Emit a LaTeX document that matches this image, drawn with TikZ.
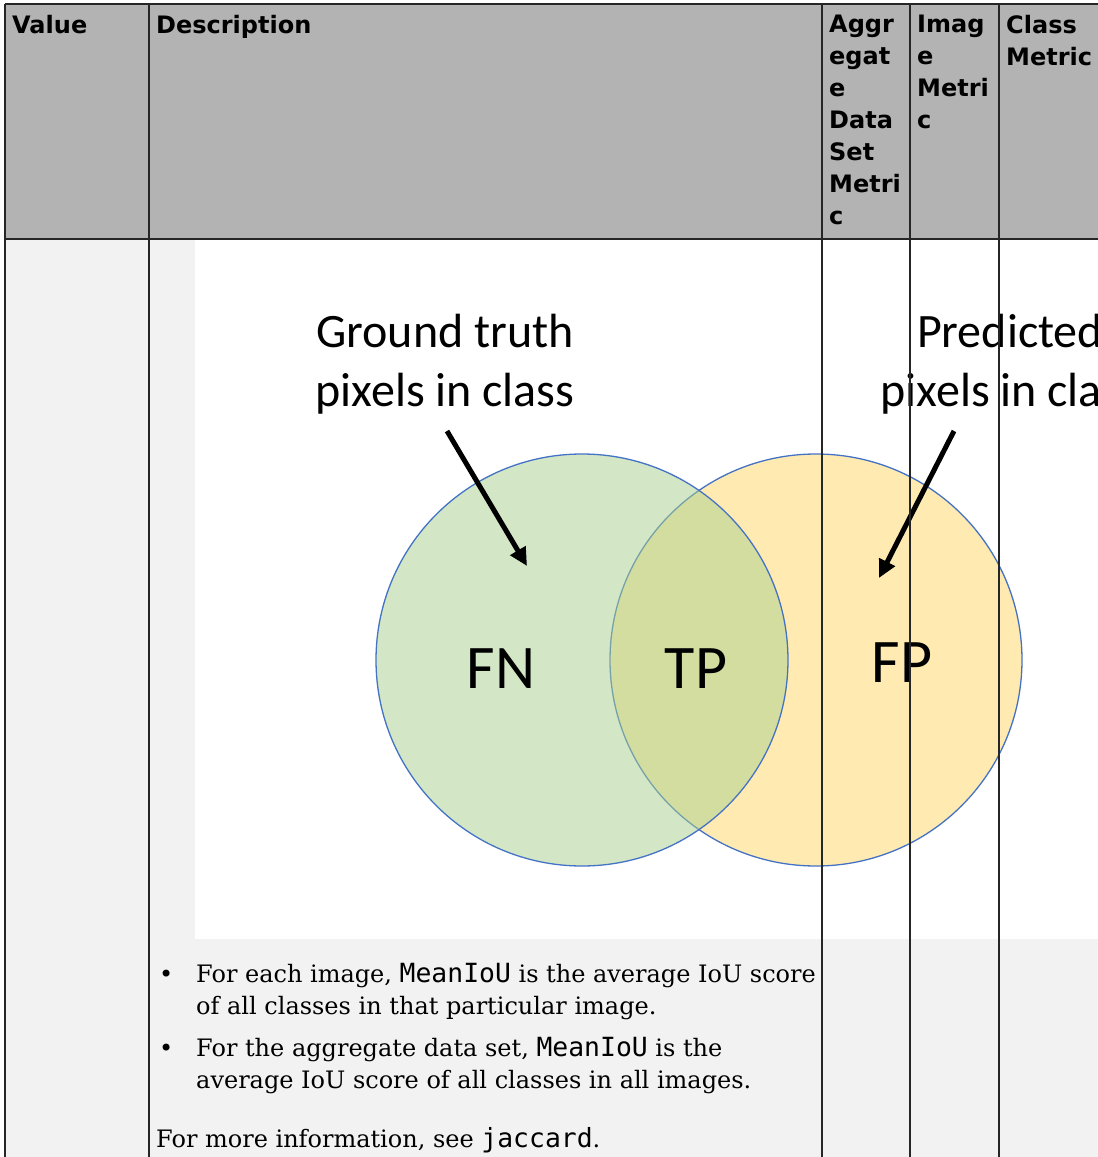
\documentclass[tikz,border=0pt]{standalone}
\usepackage{fontspec}
\setmainfont{DejaVu Serif}
\setsansfont{DejaVu Sans}
\setmonofont{DejaVu Sans Mono}[Scale=1.1]
\newfontfamily\callout{Carlito}
\usetikzlibrary{arrows.meta}
\definecolor{hdrgray}{HTML}{B3B3B3}
\definecolor{cellgray}{HTML}{F2F2F2}
\definecolor{gtgreen}{HTML}{A9D18E}
\definecolor{predyellow}{HTML}{FFD966}
\definecolor{rimblue}{HTML}{4472C4}

\begin{document}
\begin{tikzpicture}[x=1pt, y=-1pt,
  hdr/.style={anchor=north west, align=left, inner sep=0pt, font=\sffamily\bfseries\fontsize{24}{32}\selectfont},
  txtline/.style={anchor=base west, inner sep=0pt, font=\fontsize{24}{32}\selectfont},
  caption/.style={anchor=north, align=center, inner sep=0pt, font=\callout\fontsize{48}{59}\selectfont},
  region/.style={inner sep=0pt, font=\callout\fontsize{62}{62}\selectfont},
  set/.style={draw=rimblue, line width=1.3pt, fill opacity=0.5},
  rule/.style={line width=1.6pt, black!85},
  pointer/.style={line width=5pt, -{Triangle[length=18pt,width=17pt]}}
]
\useasboundingbox (0,0) rectangle (1098,1157);
\clip (0,0) rectangle (1098,1157);

% cell backgrounds
\fill[hdrgray] (5,4) rectangle (1098,239);
\fill[cellgray] (5,239) rectangle (1098,1157);
\fill[white] (195,240) rectangle (1098,939);

% venn diagram
\draw[set, fill=predyellow] (816,660) circle[radius=206];
\draw[set, fill=gtgreen] (582,660) circle[radius=206];
\node[caption] (gtlbl) at (445,314) {Ground truth\\pixels in class};
\node[caption] (predlbl) at (1010,314) {Predicted\\pixels in class};
\coordinate (gttail) at (447,431);
\coordinate (gttip) at (527,566);
\coordinate (predtail) at (954,431);
\coordinate (predtip) at (879,578);
\draw[pointer] (gttail) -- (gttip);
\draw[pointer] (predtail) -- (predtip);
\node[region] (fn) at (501,669) {FN};
\node[region] (tp) at (696,669) {TP};
\node[region] (fp) at (902,663) {FP};

% table rules
\draw[rule] (5,4) -- (1098,4);
\draw[rule] (5,239) -- (1098,239);
\draw[rule] (5,4) -- (5,1157);
\foreach \x in {149,822,910,999}
  \draw[rule] (\x,4) -- (\x,1157);

% header
\node[hdr] (hvalue) at (12,15) {Value};
\node[hdr] (hdesc) at (156,15) {Description};
\node[hdr] (hagg) at (829,15) {Aggr\\egat\\e\\Data\\Set\\Metri\\c};
\node[hdr] (himg) at (917,15) {Imag\\e\\Metri\\c};
\node[hdr] (hcls) at (1006,15) {Class\\Metric};

% description text
\node[txtline] (b1) at (159,982) {•};
\node[txtline] (l1) at (196,982) {For each image, \texttt{MeanIoU} is the average IoU score};
\node[txtline] (l2) at (196,1014) {of all classes in that particular image.};
\node[txtline] (b2) at (159,1056) {•};
\node[txtline] (l3) at (196,1056) {For the aggregate data set, \texttt{MeanIoU} is the};
\node[txtline] (l4) at (196,1088) {average IoU score of all classes in all images.};
\node[txtline] (l5) at (156,1147) {For more information, see \texttt{jaccard}.};
\end{tikzpicture}
\end{document}
